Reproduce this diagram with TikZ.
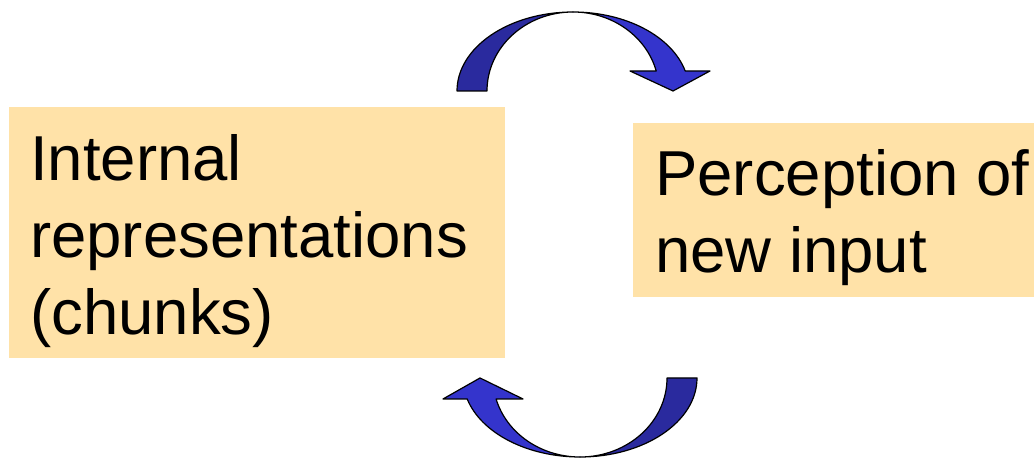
\documentclass[tikz,border=0pt]{standalone}
\usepackage{fontspec}
\setmainfont{Liberation Sans}
\usetikzlibrary{positioning}
\definecolor{peach}{RGB}{255,226,168}
\definecolor{navy}{RGB}{42,42,158}
\definecolor{royal}{RGB}{52,52,204}

\begin{document}
\begin{tikzpicture}[x=1pt, y=1pt,
      box/.style={fill=peach, inner sep=0pt, anchor=north west},
      txt/.style={font=\fontsize{63.5}{77}\selectfont, align=left, inner sep=0pt, anchor=north west},
      ribbon/.style={draw=black, line width=1.2pt, line join=round}]
  \useasboundingbox (0,0) rectangle (1034,460);
  \node[box, minimum width=496pt, minimum height=251pt] (inbox) at (9,353) {};
  \node[box, minimum width=401pt, minimum height=174pt] (perbox) at (633,337) {};
  \node[txt] (intext) at ([xshift=21pt, yshift=-27.5pt]inbox.north west) {Internal\\representations\\(chunks)};
  \node[txt] (pertext) at ([xshift=22pt, yshift=-25.8pt]perbox.north west) {Perception of\\new input};
  % upper arrow, left to right
  \coordinate (up) at (573,369);
  \draw[ribbon, fill=navy] ([xshift=-116pt]up) arc[start angle=180, end angle=90, x radius=116pt, y radius=79pt]
    arc[start angle=90, end angle=180, x radius=86pt, y radius=79pt] -- cycle;
  \draw[ribbon, fill=royal] ([yshift=79pt]up) arc[start angle=90, end angle=14.67, x radius=116pt, y radius=79pt]
    -- ++(24.8,0) -- ++(-37,-20) -- ++(-43,20) -- ++(26.2,0)
    arc[start angle=14.67, end angle=90, x radius=86pt, y radius=79pt] -- cycle;
  % lower arrow, right to left
  \coordinate (down) at (580,82);
  \draw[ribbon, fill=navy] ([xshift=117pt]down) arc[start angle=0, end angle=-90, x radius=117pt, y radius=79pt]
    arc[start angle=-90, end angle=0, x radius=87pt, y radius=79pt] -- cycle;
  \draw[ribbon, fill=royal] ([yshift=-79pt]down) arc[start angle=-90, end angle=-164.6, x radius=117pt, y radius=79pt]
    -- ++(-24.2,0) -- ++(37,21) -- ++(43,-21) -- ++(-26.9,0)
    arc[start angle=-164.6, end angle=-90, x radius=87pt, y radius=79pt] -- cycle;
\end{tikzpicture}
\end{document}
